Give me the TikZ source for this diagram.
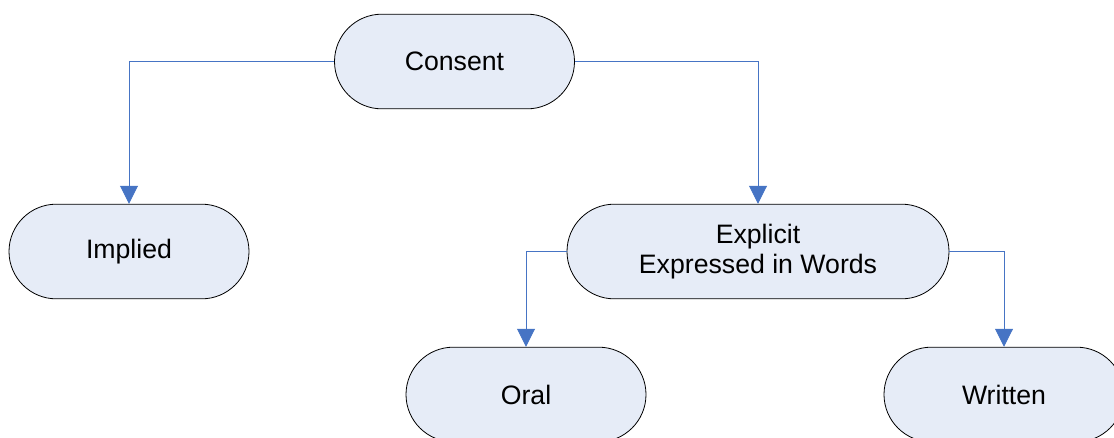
\documentclass[tikz,border=0pt]{standalone}
\usepackage{fontspec}
\setmainfont{Liberation Sans}
\usetikzlibrary{arrows.meta,shapes.misc}

\definecolor{boxfill}{RGB}{230,236,247}
\definecolor{linkblue}{RGB}{70,116,196}

\tikzset{
  pill/.style={rounded rectangle, draw=black, line width=0.6pt, fill=boxfill,
    minimum width=180pt, minimum height=71pt, inner sep=0pt, align=center,
    font=\fontsize{20}{22.5}\selectfont},
  link/.style={draw=linkblue, line width=0.7pt,
    -{Triangle[length=13.5pt,width=13.5pt]}}
}

\begin{document}
\begin{tikzpicture}[x=0.75pt,y=0.75pt,yscale=-1,xscale=1]
\clip (0,0) rectangle (1114,437);
\useasboundingbox (0,0) rectangle (1114,437);

% nodes
\node [pill] (consent) at (454.5,61.5) {Consent};
\node [pill] (implied) at (129,251.5) {Implied};
\node [pill, minimum width=286.5pt] (explicit) at (758,251.5) {Explicit\\Expressed in Words};
\node [pill] (oral) at (526,394.5) {Oral};
\node [pill] (written) at (1004,394.5) {Written};

% connectors
\draw [link] (consent.west) -| (implied.north);
\draw [link] (consent.east) -| (explicit.north);
\draw [link] (explicit.west) -| (oral.north);
\draw [link] (explicit.east) -| (written.north);

\end{tikzpicture}
\end{document}
